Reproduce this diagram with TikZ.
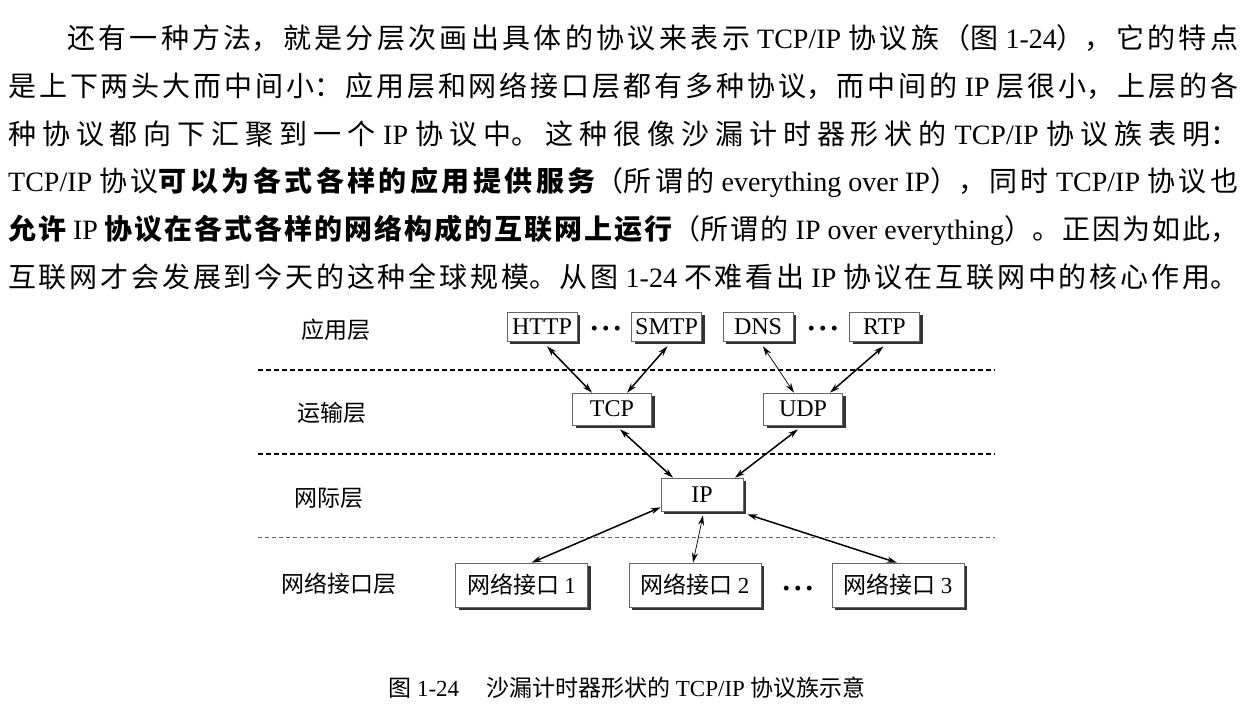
\documentclass[tikz,border=0pt]{standalone}
\usepackage{fontspec}
\setmainfont{Liberation Serif}
\newfontfamily\cjk{Noto Sans CJK SC}
\usetikzlibrary{arrows.meta,shadows}
\XeTeXlinebreaklocale "zh"
\XeTeXlinebreakskip=0pt plus 12pt
\newcommand\lat[1]{\mbox{\rmfamily #1}}
\newcommand\jline[2]{\parbox{#1}{\tolerance=10000\noindent\parfillskip=0pt\relax #2\par}}
\tikzset{
  para/.style={anchor=west, inner sep=0pt,
    font=\fontsize{28pt}{34pt}\selectfont\cjk},
  box/.style={draw=black!60, line width=0.6pt, fill=white, inner sep=0pt,
    drop shadow={shadow xshift=3pt, shadow yshift=-3pt, fill=black!80, opacity=1}},
  pbox/.style={box, minimum width=70pt, minimum height=29pt,
    font=\fontsize{24pt}{28pt}\selectfont},
  mbox/.style={box, minimum width=79pt, minimum height=32pt,
    font=\fontsize{24pt}{28pt}\selectfont},
  nbox/.style={box, minimum width=132pt, minimum height=44pt,
    font=\fontsize{23pt}{27pt}\selectfont\cjk},
  lab/.style={inner sep=0pt, font=\fontsize{23pt}{27pt}\selectfont\cjk},
  dots/.style={inner sep=0pt, font=\fontsize{30pt}{30pt}\selectfont\bfseries},
  arr/.style={{Stealth[length=10pt,width=6pt]}-{Stealth[length=10pt,width=6pt]}, line width=1.5pt},
  arrthin/.style={{Stealth[length=10pt,width=6pt]}-{Stealth[length=10pt,width=6pt]}, line width=0.7pt},
  dline/.style={line width=1.7pt, dash pattern=on 5pt off 3pt},
  dlinethin/.style={line width=0.6pt, black!60, dash pattern=on 4pt off 3pt},
}
\begin{document}
\begin{tikzpicture}[x=1pt,y=-1pt]
\useasboundingbox[fill=white] (0,0) rectangle (1254,708);

% paragraph
\node[para] (l1) at (67,38) {\jline{1171pt}{还有一种方法，就是分层次画出具体的协议来表示 \lat{TCP/IP} 协议族（图 \lat{1-24}），它的特点}};
\node[para] (l2) at (8,86) {\jline{1230pt}{是上下两头大而中间小：应用层和网络接口层都有多种协议，而中间的 \lat{IP} 层很小，上层的各}};
\node[para] (l3) at (8,134) {\jline{1230pt}{种协议都向下汇聚到一个 \lat{IP} 协议中。这种很像沙漏计时器形状的 \lat{TCP/IP} 协议族表明：}};
\node[para] (l4) at (8,182) {\jline{1230pt}{\lat{TCP/IP} 协议{\bfseries 可以为各式各样的应用提供服务}（所谓的 \lat{everything over IP}），同时 \lat{TCP/IP} 协议也}};
\node[para] (l5) at (8,230) {\jline{1230pt}{{\bfseries 允许} \lat{IP} {\bfseries 协议在各式各样的网络构成的互联网上运行}（所谓的 \lat{IP over everything}）。正因为如此，}};
\node[para] (l6) at (8,277) {\jline{1230pt}{互联网才会发展到今天的这种全球规模。从图 \lat{1-24} 不难看出 \lat{IP} 协议在互联网中的核心作用。}};

% layer labels
\node[lab] (la) at (336,330) {应用层};
\node[lab] (lt) at (332,413) {运输层};
\node[lab] (li) at (329,498) {网际层};
\node[lab] (ln) at (339,584) {网络接口层};

% dashed separators
\coordinate (d1a) at (258,370); \coordinate (d1b) at (995,370);
\coordinate (d2a) at (258,454); \coordinate (d2b) at (995,454);
\coordinate (d3a) at (258,537); \coordinate (d3b) at (995,537);
\draw[dline] (d1a) -- (d1b);
\draw[dline] (d2a) -- (d2b);
\draw[dlinethin] (d3a) -- (d3b);

% application layer
\node[pbox] (HTTP) at (542,326.5) {HTTP};
\node[dots] (dt1) at (606,332) {·\kern1.5pt·\kern1.5pt·};
\node[pbox] (SMTP) at (666.5,326.5) {SMTP};
\node[pbox] (DNS) at (758,326.5) {DNS};
\node[dots] (dt2) at (823,332) {·\kern1.5pt·\kern1.5pt·};
\node[pbox] (RTP) at (884.5,326.5) {RTP};

% transport layer
\node[mbox] (TCP) at (612,409) {TCP};
\node[mbox] (UDP) at (803,409) {UDP};

% internet layer
\node[mbox, minimum width=82pt, minimum height=33pt] (IP) at (702,494.5) {IP};

% network interface layer
\node[nbox] (NI1) at (521.5,585) {网络接口 \lat{1}};
\node[nbox] (NI2) at (695,585) {网络接口 \lat{2}};
\node[dots] (dt3) at (798,592) {·\kern1.5pt·\kern1.5pt·};
\node[nbox] (NI3) at (898,585) {网络接口 \lat{3}};

% connectors
\draw[arr] ([xshift=5pt,yshift=-5pt]HTTP.south) -- ([xshift=-20pt]TCP.north);
\draw[arr] ([xshift=1pt,yshift=-5pt]SMTP.south) -- ([xshift=15pt]TCP.north);
\draw[arrthin] ([xshift=5pt,yshift=-5pt]DNS.south) -- ([xshift=-9pt]UDP.north);
\draw[arr] ([xshift=-1pt,yshift=-5pt]RTP.south) -- ([xshift=27pt]UDP.north);
\draw[arr] ([xshift=8pt,yshift=-4pt]TCP.south) -- ([xshift=-29pt]IP.north);
\draw[arr] ([xshift=-5pt,yshift=-4pt]UDP.south) -- ([xshift=33pt]IP.north);
\draw[arr] ([yshift=4pt]IP.south west) -- ([xshift=10pt]NI1.north);
\draw[arrthin] ([xshift=1pt,yshift=-4pt]IP.south) -- ([xshift=-2pt]NI2.north);
\draw[arr] ([xshift=4pt,yshift=-3pt]IP.south east) -- ([xshift=-1pt]NI3.north);

% caption
\node[inner sep=0pt, font=\fontsize{23pt}{27pt}\selectfont\cjk] (cap) at (627,688)
  {图 \lat{1-24}\hspace{1.2em}沙漏计时器形状的 \lat{TCP/IP} 协议族示意};
\end{tikzpicture}
\end{document}
